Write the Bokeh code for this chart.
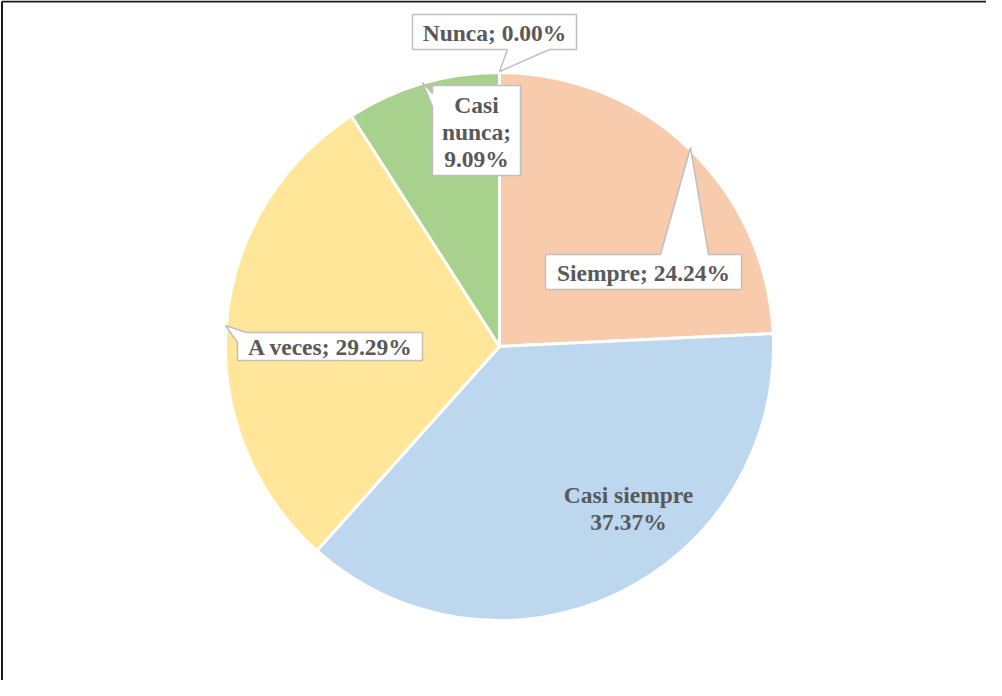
import math
from bokeh.plotting import figure
from bokeh.models import Range1d, ColumnDataSource
from bokeh.core.properties import value
from bokeh.embed import file_html
from bokeh.resources import INLINE

# ---- data ----
categories = ["Siempre", "Casi siempre", "A veces", "Casi nunca", "Nunca"]
values = [24.24, 37.37, 29.29, 9.09, 0.00]
colors = ["#F8CBAD", "#BDD7EE", "#FFE699", "#A9D18E", "#7F7F7F"]

# ---- layout (page pixel coordinates) ----
W, H = 986, 680
PAGE_H = 696
CX, CY, R = 507, 354, 274

def py(y):
    return PAGE_H - y

p = figure(width=W, height=H, output_backend="svg", toolbar_location=None,
           x_range=Range1d(8, 8 + W), y_range=Range1d(PAGE_H - 8 - H, PAGE_H - 8),
           min_border=0, outline_line_color=None)
p.axis.visible = False
p.grid.visible = False
p.background_fill_color = "white"
p.border_fill_color = "white"

# wedges, clockwise from top
total = sum(values)
starts, ends, cols = [], [], []
a = math.pi / 2
for v, c in zip(values, colors):
    sweep = 2 * math.pi * v / total
    if v > 0:
        starts.append(a)
        ends.append(a - sweep)
        cols.append(c)
    a -= sweep
src = ColumnDataSource(dict(start=starts, end=ends, color=cols))
p.wedge(x=CX, y=py(CY), radius=R, start_angle="start", end_angle="end",
        direction="clock", fill_color="color", line_color="white",
        line_width=3, source=src)

# frame lines (left and top only visible in the reference)
p.segment(x0=[9.5, 9.5], y0=[py(9), py(9)], x1=[9.5, 8 + W], y1=[py(8 + H), py(9)],
          line_color="#1a1a1a", line_width=2)

# callout boxes: polygons in page px
callouts = {
    0: [(553, 262), (668, 262), (698, 155), (716, 262), (749, 262), (749, 297), (553, 297)],
    2: [(254, 340), (430, 340), (430, 368), (245, 368), (245, 350), (233, 333)],
    3: [(440, 93), (528, 93), (528, 183), (440, 183), (440, 114), (430, 90), (440, 101)],
    4: [(420, 22), (584, 22), (584, 57), (557, 57), (507, 79), (515, 57), (420, 57)],
}
xs = [[pt[0] for pt in poly] for poly in callouts.values()]
ys = [[py(pt[1]) for pt in poly] for poly in callouts.values()]
p.patches(xs=xs, ys=ys, fill_color="white", line_color="#BFBFBF", line_width=1.5)

# labels
labels = [f"{c}; {v:.2f}%" for c, v in zip(categories, values)]
label_lines = {
    0: ([labels[0]], (651, 280)),
    1: ([categories[1], f"{values[1]:.2f}%"], (636, 502)),
    2: ([labels[2]], (338, 354)),
    3: (labels[3].split(" "), (484, 112)),
    4: ([labels[4]], (502, 40)),
}
LINE_H = 27
tx, ty, tt = [], [], []
for i, (lines, (lx, ly)) in label_lines.items():
    for k, line in enumerate(lines):
        tx.append(lx)
        ty.append(py(ly + k * LINE_H))
        tt.append(line)
p.text(x=tx, y=ty, text=tt, text_font=value("Liberation Serif"),
       text_font_style="bold", text_font_size="23.5px", text_color="#595959",
       text_align="center", text_baseline="middle")

open("out.html", "w").write(file_html(p, INLINE))
